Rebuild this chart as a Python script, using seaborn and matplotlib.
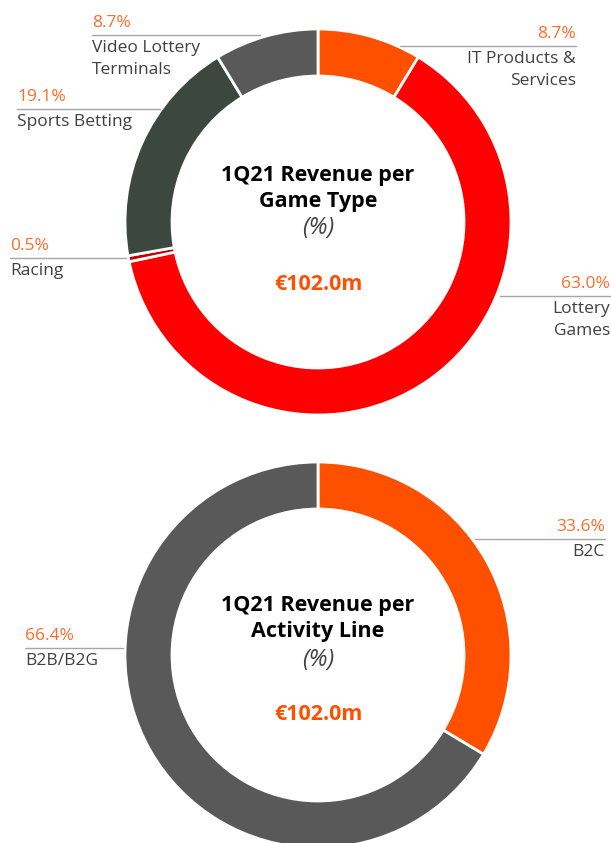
import matplotlib
matplotlib.use("Agg")
import matplotlib.pyplot as plt
import seaborn as sns

# top donut: revenue per game type (clockwise from 12 o'clock)
game_types = ["IT Products &\nServices", "Lottery\nGames", "Racing", "Sports Betting", "Video Lottery\nTerminals"]
game_share = [8.7, 63.0, 0.5, 19.1, 8.7]
game_colors = ["#FF5000", "#FF0000", "#C00000", "#3C4740", "#595959"]

# bottom donut: revenue per activity line
activity_lines = ["B2C", "B2B/B2G"]
activity_share = [33.6, 66.4]
activity_colors = ["#FF5000", "#595959"]

total_label = "€102.0m"

W, H = 611, 843


def Y(py):
    return H - py


sns.set_theme(style="white")
plt.rcParams["font.family"] = ["Open Sans", "DejaVu Sans"]

fig = plt.figure(figsize=(W / 100, H / 100), dpi=100)
ax = fig.add_axes([0, 0, 1, 1])

pct_color = "#FF6B2C"
txt_color = "#404040"
line_color = "#A6A6A6"


def donut(values, colors, cx, cy):
    ax.pie(values, colors=colors, startangle=90, counterclock=False,
           center=(cx, Y(cy)), radius=193,
           wedgeprops=dict(width=47, edgecolor="white", linewidth=2))


def callout(pct, label, x0, x1, line_y, align):
    ax.plot([x0, x1], [Y(line_y), Y(line_y)], color=line_color, lw=1)
    tx = x0 if align == "left" else x1
    ax.text(tx, Y(line_y - 12), f"{pct:.1f}%", color=pct_color, fontsize=12.5,
            ha=align, va="center")
    for i, part in enumerate(label.split("\n")):
        ax.text(tx, Y(line_y + 13 + 22 * i), part, color=txt_color, fontsize=12.5,
                ha=align, va="center")


def centre_text(cx, title, y_title, y_pct, y_total):
    for i, part in enumerate(title.split("\n")):
        ax.text(cx, Y(y_title + 27 * i), part, ha="center", va="center",
                fontsize=15.5, fontweight="bold", color="black")
    ax.text(cx, Y(y_pct), "(%)", ha="center", va="center", fontsize=17,
            fontstyle="italic", color="#404040")
    ax.text(cx, Y(y_total), total_label, ha="center", va="center", fontsize=15.5,
            fontweight="bold", color="#FF5000")


donut(game_share, game_colors, 318, 222)
donut(activity_share, activity_colors, 318, 655)

# callouts for the top donut
callout(game_share[0], game_types[0], 400, 576, 46, "right")
callout(game_share[1], game_types[1], 500, 610, 296, "right")
callout(game_share[2], game_types[2], 10, 126, 258, "left")
callout(game_share[3], game_types[3], 17, 160, 109, "left")
callout(game_share[4], game_types[4], 92, 260, 35, "left")

# callouts for the bottom donut
callout(activity_share[0], activity_lines[0], 475, 605, 539, "right")
callout(activity_share[1], activity_lines[1], 25, 123, 648, "left")

centre_text(318, "1Q21 Revenue per\nGame Type", 175, 228, 285)
centre_text(318, "1Q21 Revenue per\nActivity Line", 605, 660, 715)

ax.set_xlim(0, W)
ax.set_ylim(0, H)
ax.set_aspect("equal")
ax.axis("off")

fig.savefig("out.png", dpi=100, facecolor="white")
